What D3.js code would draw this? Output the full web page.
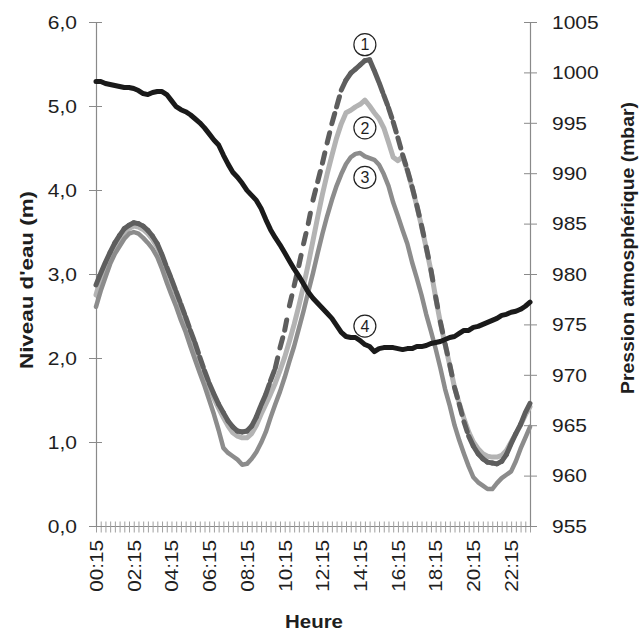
<!DOCTYPE html>
<html><head><meta charset="utf-8">
<script src="https://cdn.jsdelivr.net/npm/d3@7"></script>
<style>
html,body{margin:0;padding:0;background:#fff;}
svg{display:block;}
text{font-family:"Liberation Sans",Arial,Helvetica,sans-serif;fill:#1e1e1e;}
</style></head>
<body>
<svg id="chart" width="644" height="631"></svg>
<script>
// ---- data ----
const categories = ["00:15","00:30","00:45","01:00","01:15","01:30","01:45","02:00","02:15","02:30","02:45","03:00","03:15","03:30","03:45","04:00","04:15","04:30","04:45","05:00","05:15","05:30","05:45","06:00","06:15","06:30","06:45","07:00","07:15","07:30","07:45","08:00","08:15","08:30","08:45","09:00","09:15","09:30","09:45","10:00","10:15","10:30","10:45","11:00","11:15","11:30","11:45","12:00","12:15","12:30","12:45","13:00","13:15","13:30","13:45","14:00","14:15","14:30","14:45","15:00","15:15","15:30","15:45","16:00","16:15","16:30","16:45","17:00","17:15","17:30","17:45","18:00","18:15","18:30","18:45","19:00","19:15","19:30","19:45","20:00","20:15","20:30","20:45","21:00","21:15","21:30","21:45","22:00","22:15","22:30","22:45","23:00","23:15"];
const xTickLabels = ["00:15","02:15","04:15","06:15","08:15","10:15","12:15","14:15","16:15","18:15","20:15","22:15"];
const leftTicks = [0,1,2,3,4,5,6];
const rightTicks = [955,960,965,970,975,980,985,990,995,1000,1005];

// Niveau d'eau (m) - série 1 (gris foncé, tirets)
const niveau1 = [2.87,3.01,3.14,3.26,3.37,3.46,3.54,3.58,3.61,3.60,
3.57,3.52,3.45,3.36,3.23,3.08,2.94,2.79,2.64,2.49,
2.33,2.18,2.01,1.85,1.70,1.57,1.45,1.35,1.25,1.18,
1.13,1.12,1.13,1.19,1.30,1.44,1.57,1.73,1.88,2.12,
2.33,2.62,2.86,3.10,3.36,3.60,3.88,4.10,4.32,4.56,
4.79,4.99,5.19,5.31,5.39,5.44,5.49,5.54,5.55,5.42,
5.28,5.13,4.98,4.81,4.62,4.42,4.24,4.04,3.82,3.58,
3.32,3.05,2.73,2.43,2.17,1.92,1.65,1.45,1.24,1.07,
0.95,0.86,0.80,0.76,0.75,0.74,0.77,0.85,0.98,1.10,
1.21,1.35,1.46];
// série 2 (gris clair)
const niveau2 = [2.75,2.95,3.09,3.21,3.32,3.42,3.50,3.54,3.57,3.56,
3.53,3.48,3.41,3.32,3.19,3.04,2.90,2.75,2.60,2.45,
2.29,2.13,1.96,1.80,1.65,1.52,1.40,1.29,1.19,1.11,
1.07,1.05,1.05,1.10,1.20,1.33,1.45,1.57,1.70,1.85,
2.01,2.20,2.40,2.62,2.86,3.12,3.40,3.68,3.95,4.19,
4.41,4.62,4.79,4.92,4.95,4.99,5.02,5.07,5.00,4.92,
4.85,4.74,4.57,4.39,4.35,4.40,4.23,4.03,3.81,3.57,
3.31,3.04,2.72,2.42,2.16,1.91,1.65,1.46,1.28,1.12,
1.00,0.92,0.86,0.83,0.82,0.82,0.84,0.90,1.00,1.10,
1.20,1.32,1.42];
// série 3 (gris moyen)
const niveau3 = [2.61,2.80,2.96,3.12,3.24,3.33,3.42,3.48,3.50,3.48,
3.43,3.37,3.30,3.20,3.06,2.90,2.75,2.61,2.45,2.31,
2.14,1.98,1.82,1.67,1.50,1.33,1.14,0.93,0.87,0.83,
0.79,0.73,0.74,0.80,0.88,0.99,1.12,1.29,1.45,1.60,
1.77,1.96,2.14,2.35,2.56,2.79,3.01,3.25,3.48,3.69,
3.88,4.05,4.19,4.31,4.39,4.43,4.44,4.40,4.38,4.36,
4.30,4.19,4.05,3.85,3.69,3.52,3.36,3.14,2.95,2.75,
2.52,2.32,2.11,1.88,1.63,1.43,1.20,1.02,0.86,0.71,
0.58,0.52,0.48,0.44,0.44,0.51,0.57,0.61,0.65,0.77,
0.92,1.05,1.18];
// série 4 : pression atmosphérique (mbar)
const pression = [999.1,999.1,998.9,998.8,998.7,998.6,998.5,998.5,998.4,998.2,
997.9,997.8,998.0,998.1,998.1,997.8,997.2,996.6,996.3,996.1,
995.8,995.4,995.0,994.5,993.9,993.3,992.8,991.8,990.9,990.1,
989.6,989.0,988.3,987.8,987.3,986.5,985.4,984.4,983.6,982.9,
982.1,981.3,980.5,979.8,979.0,978.2,977.6,977.1,976.6,976.1,
975.6,974.9,974.2,973.8,973.7,973.7,973.4,973.0,972.8,972.3,
972.6,972.7,972.7,972.7,972.6,972.5,972.6,972.6,972.8,972.8,
972.9,973.1,973.2,973.3,973.5,973.7,973.8,974.1,974.4,974.4,
974.7,974.8,975.0,975.2,975.4,975.6,975.9,976.0,976.2,976.3,
976.5,976.8,977.2];
// repères numérotés (catégorie, valeur sur l'axe de gauche)
const markerLabels = ["1","2","3","4"];
const markerCats = ["14:30","14:30","14:30","14:30"];
const markerVals = [5.73,4.74,4.15,2.38];

// ---- layout ----
const W = 644, H = 631;
const m = {left:96, right:114, top:22, bottom:105};
const svg = d3.select("#chart");
const x = d3.scalePoint().domain(categories).range([m.left, W - m.right]);
const yL = d3.scaleLinear().domain([0,6]).range([H - m.bottom, m.top]);
const yR = d3.scaleLinear().domain([955,1005]).range([H - m.bottom, m.top]);
const axisColor = "#8a8a8a";
const TS = 1.2; // horizontal stretch of tick glyphs

// X axis
const gx = svg.append("g").attr("transform", `translate(0,${H - m.bottom})`)
  .call(d3.axisBottom(x).tickValues(categories).tickSizeOuter(0)
    .tickFormat(d => xTickLabels.includes(d) ? d : ""));
gx.select(".domain").attr("stroke", axisColor).attr("stroke-width", 1.2);
gx.selectAll(".tick line").attr("y1", -4.5).attr("y2", 6.5).attr("stroke", "#a0a0a0").attr("stroke-width", 1);
gx.selectAll(".tick text")
  .attr("x", 0).attr("y", 0).attr("dy", "0.35em")
  .attr("text-anchor", "end")
  .attr("transform", "translate(0,14) rotate(-90) scale(1.15,1)")
  .style("font-size", "18px").attr("fill", "#1e1e1e");

// left axis
const gl = svg.append("g").attr("transform", `translate(${m.left},0)`)
  .call(d3.axisLeft(yL).tickValues(leftTicks).tickSizeOuter(0)
    .tickFormat(d => d.toFixed(1).replace(".", ",")));
gl.select(".domain").attr("stroke", axisColor).attr("stroke-width", 1.2);
gl.selectAll(".tick line").attr("x1", 6).attr("x2", -7).attr("stroke", axisColor);
gl.selectAll(".tick text").attr("x", -19 / TS).attr("dy", "0.36em")
  .attr("transform", `scale(${TS},1)`).style("font-size", "17.5px").attr("fill", "#1e1e1e");

// right axis
const gr = svg.append("g").attr("transform", `translate(${W - m.right},0)`)
  .call(d3.axisRight(yR).tickValues(rightTicks).tickSizeOuter(0).tickFormat(d3.format("d")));
gr.select(".domain").attr("stroke", axisColor).attr("stroke-width", 1.2);
gr.selectAll(".tick line").attr("x1", -6).attr("x2", 7).attr("stroke", axisColor);
gr.selectAll(".tick text").attr("x", 22 / TS).attr("dy", "0.36em")
  .attr("transform", `scale(${TS},1)`).style("font-size", "17.5px").attr("fill", "#1e1e1e");

// axis titles
svg.append("text").attr("transform", "translate(33,280) rotate(-90)")
  .attr("text-anchor", "middle").style("font-size", "18px").style("font-weight", "bold")
  .attr("textLength", 178).attr("lengthAdjust", "spacingAndGlyphs")
  .text("Niveau d'eau (m)");
svg.append("text").attr("transform", "translate(634,248) rotate(-90)")
  .attr("text-anchor", "middle").style("font-size", "19px").style("font-weight", "bold")
  .attr("textLength", 292).attr("lengthAdjust", "spacingAndGlyphs")
  .text("Pression atmosphérique (mbar)");
svg.append("text").attr("x", 314).attr("y", 628)
  .attr("text-anchor", "middle").style("font-size", "18.5px").style("font-weight", "bold")
  .attr("textLength", 58).attr("lengthAdjust", "spacingAndGlyphs")
  .text("Heure");

// lines
const lineL = d3.line().x((d,i) => x(categories[i])).y(d => yL(d));
const lineR = d3.line().x((d,i) => x(categories[i])).y(d => yR(d));
const plot = svg.append("g").attr("fill", "none")
  .attr("stroke-linejoin", "round").attr("stroke-linecap", "round");

plot.append("path").attr("d", lineL(niveau2)).attr("stroke", "#b3b3b3").attr("stroke-width", 5);
plot.append("path").attr("d", lineL(niveau3)).attr("stroke", "#8c8c8c").attr("stroke-width", 4.5);

// série 1 : tirets recommencés à chaque segment (comme Excel)
const pts1 = niveau1.map((v,i) => [x(categories[i]), yL(v)]);
plot.append("g").selectAll("path").data(d3.pairs(pts1)).join("path")
  .attr("d", d => d3.line()(d))
  .attr("stroke", "#5e5e5e").attr("stroke-width", 5)
  .attr("stroke-dasharray", "10.5,300");

plot.append("path").attr("d", lineR(pression)).attr("stroke", "#1a1a1a").attr("stroke-width", 5);

// numbered markers
const mk = svg.append("g");
markerLabels.forEach((lab, k) => {
  const cx = x(markerCats[k]), cy = yL(markerVals[k]);
  mk.append("circle").attr("cx", cx).attr("cy", cy).attr("r", 11)
    .attr("fill", "none").attr("stroke", "#222").attr("stroke-width", 1.2);
  mk.append("text").attr("x", cx).attr("y", cy).attr("dy", "0.36em")
    .attr("text-anchor", "middle").style("font-size", "16px").text(lab);
});
</script>
</body></html>
